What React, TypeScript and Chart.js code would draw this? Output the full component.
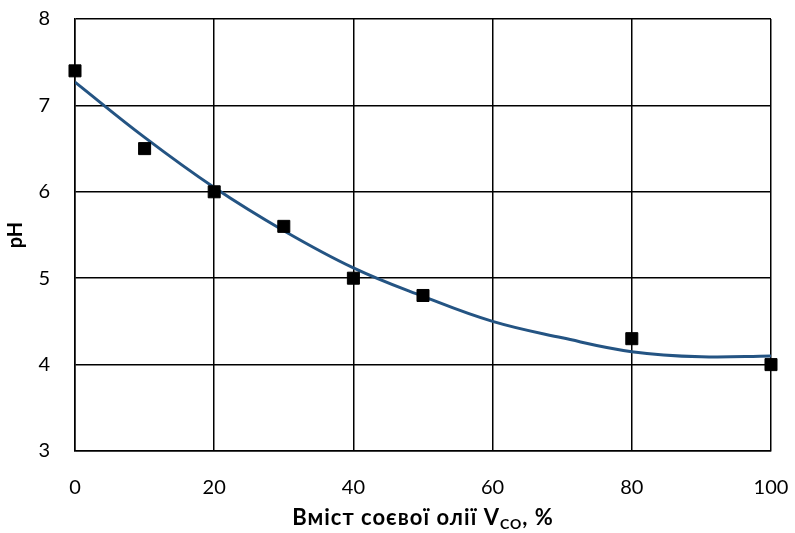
import React, { useEffect, useRef } from "react";
import { Chart, registerables } from "chart.js";

Chart.register(...registerables);

const pointX = [0, 10, 20, 30, 40, 50, 80, 100];
const pointY = [7.4, 6.5, 6.0, 5.6, 5.0, 4.8, 4.3, 4.0];
const trendX = [0, 10, 20, 30, 40, 50, 60, 70, 80, 90, 100];
const trendY = [7.27, 6.63, 6.05, 5.55, 5.12, 4.79, 4.5, 4.31, 4.15, 4.09, 4.1];
const xTitleMain = "Вміст соєвої олії V";
const xTitleSub = "CO";
const xTitleEnd = ", %";
const yTitle = "pH";

const FONT = "Lato, 'Open Sans', sans-serif";

const xTitlePlugin = {
  id: "xTitleSub",
  afterDraw(chart: any) {
    const { ctx, chartArea } = chart;
    const cx = (chartArea.left + chartArea.right) / 2;
    const y = chartArea.bottom + 67;
    ctx.save();
    ctx.fillStyle = "#000";
    ctx.textBaseline = "middle";
    try {
      (ctx as any).letterSpacing = "1px";
    } catch (e) {}
    const big = `bold 22px ${FONT}`;
    const small = `bold 14px ${FONT}`;
    ctx.font = big;
    const w1 = ctx.measureText(xTitleMain).width;
    const w3 = ctx.measureText(xTitleEnd).width;
    ctx.font = small;
    const w2 = ctx.measureText(xTitleSub).width;
    let x = cx - (w1 + w2 + w3) / 2;
    ctx.textAlign = "left";
    ctx.font = big;
    ctx.fillText(xTitleMain, x, y);
    x += w1;
    ctx.font = small;
    ctx.fillText(xTitleSub, x, y + 6);
    x += w2;
    ctx.font = big;
    ctx.fillText(xTitleEnd, x, y);
    ctx.restore();
  },
};

export default function App() {
  const ref = useRef<HTMLCanvasElement>(null);
  useEffect(() => {
    document.body.style.margin = "0";
    const chart = new Chart(ref.current!, {
      type: "scatter",
      data: {
        datasets: [
          {
            type: "line",
            label: "trend",
            data: trendX.map((x, i) => ({ x, y: trendY[i] })),
            borderColor: "#245483",
            borderWidth: 3,
            pointRadius: 0,
            tension: 0.4,
            fill: false,
            order: 2,
          } as any,
          {
            label: "pH",
            data: pointX.map((x, i) => ({ x, y: pointY[i] })),
            pointStyle: "rect",
            pointRadius: 8.5,
            backgroundColor: "#000",
            borderColor: "#000",
            borderWidth: 1,
            clip: false,
            order: 1,
          } as any,
        ],
      },
      options: {
        animation: false,
        responsive: false,
        layout: { padding: { left: 0, right: 24, top: 19, bottom: 0 } },
        plugins: { legend: { display: false }, tooltip: { enabled: false } },
        scales: {
          x: {
            type: "linear",
            min: 0,
            max: 100,
            afterFit: (s: any) => {
              s.height = 82;
              s.paddingLeft = 0;
              s.paddingRight = 0;
            },
            ticks: {
              stepSize: 20,
              color: "#000",
              padding: 25,
              font: { family: FONT, size: 20 },
            },
            grid: { color: "#000", lineWidth: 1.5, drawTicks: false },
            border: { color: "#000", width: 1.5 },
          },
          y: {
            min: 3,
            max: 8,
            afterFit: (s: any) => {
              s.width = 75;
              s.paddingTop = 0;
              s.paddingBottom = 0;
            },
            ticks: {
              stepSize: 1,
              color: "#000",
              padding: 25,
              font: { family: FONT, size: 20 },
            },
            title: {
              display: true,
              text: yTitle,
              color: "#000",
              font: { family: FONT, size: 20, weight: "bold" },
              padding: { top: 4, bottom: 0 },
            },
            grid: { color: "#000", lineWidth: 1.5, drawTicks: false },
            border: { color: "#000", width: 1.5 },
          },
        },
      },
      plugins: [xTitlePlugin],
    });
    return () => chart.destroy();
  }, []);
  return <canvas ref={ref} width={795} height={533} style={{ display: "block" }} />;
}
